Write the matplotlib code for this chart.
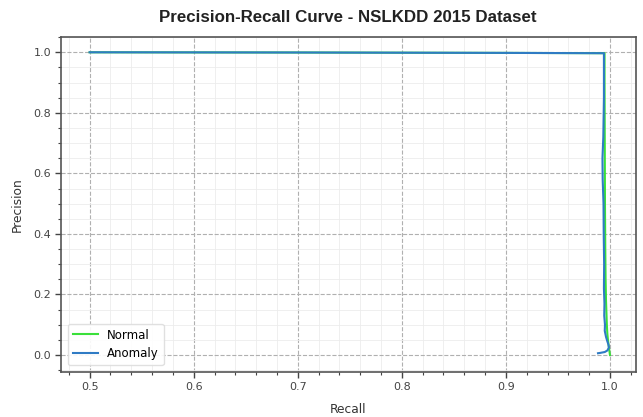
import matplotlib
matplotlib.use("Agg")
import matplotlib.pyplot as plt
from matplotlib.ticker import AutoMinorLocator

# Data
normal_recall = [0.5, 0.7, 0.9, 0.9948, 0.9948, 0.9950, 0.9952, 0.9955, 0.9958, 0.9962,
                 0.9966, 0.9970, 0.9975, 0.9982, 0.9990, 0.9996, 1.0]
normal_precision = [1.0, 0.9993, 0.998, 0.997, 0.90, 0.70, 0.50, 0.35, 0.25, 0.18,
                    0.14, 0.10, 0.07, 0.045, 0.025, 0.01, 0.0]

anomaly_recall = [0.5, 0.7, 0.9, 0.9942, 0.9942, 0.9936, 0.9928, 0.9930, 0.9938, 0.9940,
                  0.9944, 0.9942, 0.9947, 0.9945, 0.9952, 0.9950, 0.9962, 0.9975, 0.9985,
                  0.9990, 0.9975, 0.9950, 0.9905, 0.9885]
anomaly_precision = [1.0, 0.9993, 0.998, 0.997, 0.85, 0.72, 0.65, 0.58, 0.50, 0.40,
                     0.30, 0.22, 0.17, 0.13, 0.10, 0.08, 0.06, 0.045, 0.035,
                     0.025, 0.015, 0.010, 0.007, 0.006]

title = "Precision-Recall Curve - NSLKDD 2015 Dataset"
series_labels = ["Normal", "Anomaly"]

fig = plt.figure(figsize=(6.43, 4.17), dpi=100)
ax = fig.add_axes([0.0949, 0.1072, 0.8937, 0.8048])

ax.plot(normal_recall, normal_precision, color="#3ae03a", lw=1.5, label=series_labels[0])
ax.plot(anomaly_recall, anomaly_precision, color="#2f7bc4", lw=1.5, label=series_labels[1])

ax.set_xlim(0.4725, 1.0247)
ax.set_ylim(-0.057, 1.0515)
ax.set_xticks([0.5, 0.6, 0.7, 0.8, 0.9, 1.0])
ax.set_yticks([0.0, 0.2, 0.4, 0.6, 0.8, 1.0])
ax.xaxis.set_minor_locator(AutoMinorLocator(5))
ax.yaxis.set_minor_locator(AutoMinorLocator(4))

ax.grid(which="major", linestyle="--", color="#b0b0b0", linewidth=0.8)
ax.grid(which="minor", linestyle="-", color="#ececec", linewidth=0.6)
ax.set_axisbelow(True)

ax.tick_params(which="major", direction="out", length=4.5, width=1, colors="#444444",
               labelsize=8, labelcolor="#444444", pad=2.5)
ax.tick_params(which="minor", direction="out", length=2.5, width=0.8, colors="#444444")
for s in ax.spines.values():
    s.set_color("#555555")
    s.set_linewidth(1.2)

ax.set_xlabel("Recall", fontsize=8.8, color="#333333", labelpad=8)
ax.set_ylabel("Precision", fontsize=8.8, color="#333333", labelpad=7)
fig.suptitle(title, x=0.541, y=0.975, fontsize=12.2, fontweight="bold",
             family=["Liberation Sans", "DejaVu Sans"], color="#222222")

ax.legend(loc="lower left", fontsize=8.5, frameon=True, framealpha=0.9,
          edgecolor="#dddddd", handlelength=2.1, borderaxespad=0.6)

fig.savefig("out.png", dpi=100)
